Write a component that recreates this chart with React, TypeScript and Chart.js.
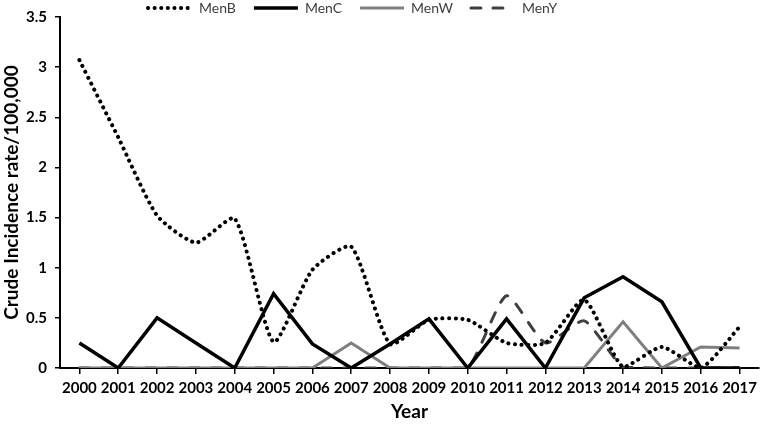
import React, { useEffect, useRef } from "react";
import { Chart, registerables } from "chart.js";

Chart.register(...registerables);

const years = ["2000", "2001", "2002", "2003", "2004", "2005", "2006", "2007", "2008", "2009", "2010", "2011", "2012", "2013", "2014", "2015", "2016", "2017"];
const menB = [3.07, 2.3, 1.52, 1.25, 1.49, 0.26, 0.98, 1.21, 0.24, 0.48, 0.48, 0.25, 0.25, 0.68, 0.01, 0.21, 0.0, 0.41];
const menC = [0.25, 0, 0.5, 0.25, 0, 0.74, 0.24, 0, 0.24, 0.49, 0, 0.49, 0, 0.7, 0.91, 0.66, 0, 0];
const menW = [0, 0, 0, 0, 0, 0, 0, 0.25, 0, 0, 0, 0, 0, 0, 0.46, 0, 0.21, 0.2];
const menY = [0, 0, 0, 0, 0, 0, 0, 0, 0, 0, 0, 0.72, 0.25, 0.47, 0.01, 0, 0, 0];
const yTicks = [0, 0.5, 1, 1.5, 2, 2.5, 3, 3.5];

const FONT = "Lato, 'Open Sans', sans-serif";

const legendShift = {
  id: "legendShift",
  beforeLayout(chart: any) {
    const l = chart.legend;
    if (l) l.isHorizontal = () => true;
  },
  afterLayout(chart: any) {
    const l = chart.legend;
    if (!l) return;
    const pad = chart.options.plugins.legend.labels.padding || 10;
    const w = l.right - l.left;
    const h = l.bottom - l.top;
    l.left = 148 - pad;
    l.right = l.left + w;
    l.top = 8 - pad - 7;
    l.bottom = l.top + h;
  },
};

export default function App() {
  const ref = useRef<HTMLCanvasElement | null>(null);
  useEffect(() => {
    if (!ref.current) return;
    const chart = new Chart(ref.current, {
      type: "line",
      data: {
        labels: years,
        datasets: [
          {
            label: "MenB",
            data: menB,
            borderColor: "#000000",
            backgroundColor: "#000000",
            borderWidth: 4,
            borderDash: [0.1, 6.5],
            borderCapStyle: "round",
            tension: 0.2,
            pointRadius: 0,
          },
          {
            label: "MenC",
            data: menC,
            borderColor: "#000000",
            backgroundColor: "#000000",
            borderWidth: 3.5,
            tension: 0,
            pointRadius: 0,
          },
          {
            label: "MenW",
            data: menW,
            borderColor: "#7f7f7f",
            backgroundColor: "#7f7f7f",
            borderWidth: 3,
            tension: 0,
            pointRadius: 0,
          },
          {
            label: "MenY",
            data: menY,
            borderColor: "#404040",
            backgroundColor: "#404040",
            borderWidth: 3,
            borderDash: [10, 12],
            borderCapStyle: "round",
            tension: 0.2,
            pointRadius: 0,
          },
        ],
      },
      options: {
        animation: false,
        responsive: false,
        maintainAspectRatio: false,
        layout: { padding: { top: 8, right: 2, left: 0, bottom: 0 } },
        plugins: {
          tooltip: { enabled: false },
          legend: {
            position: "chartArea",
            align: "start",
            labels: {
              usePointStyle: true,
              pointStyle: "line",
              pointStyleWidth: 44,
              padding: 18,
              color: "#404040",
              font: { family: FONT, size: 14 },
              generateLabels: (c: any) => {
                const items = (Chart.defaults as any).plugins.legend.labels.generateLabels(c);
                return items.map((it: any) => {
                  const ds = c.data.datasets[it.datasetIndex];
                  return {
                    ...it,
                    pointStyle: "line",
                    strokeStyle: ds.borderColor,
                    fillStyle: ds.borderColor,
                    lineWidth: ds.borderWidth,
                    lineDash: ds.borderDash || [],
                    lineCap: ds.borderCapStyle || "butt",
                  };
                });
              },
            },
          },
        },
        scales: {
          x: {
            type: "category",
            offset: true,
            grid: {
              offset: false,
              drawOnChartArea: false,
              drawTicks: true,
              tickLength: 6,
              tickColor: "#000",
              lineWidth: 1.5,
            },
            border: { display: true, color: "#000", width: 2 },
            ticks: {
              color: "#000",
              padding: 5,
              maxRotation: 0,
              autoSkip: false,
              font: { family: FONT, size: 15, weight: "bold" },
            },
            title: {
              display: true,
              text: "Year",
              color: "#000",
              padding: { top: 0, bottom: 4 },
              font: { family: FONT, size: 19, weight: "bold" },
            },
            afterFit: (s: any) => {
              s.height = 59;
            },
          },
          y: {
            min: 0,
            max: 3.5,
            afterBuildTicks: (s: any) => {
              s.ticks = yTicks.map((v) => ({ value: v }));
            },
            grid: {
              drawOnChartArea: false,
              drawTicks: true,
              tickLength: 5,
              tickColor: "#000",
              lineWidth: 1.5,
            },
            border: { display: true, color: "#000", width: 2 },
            ticks: {
              color: "#000",
              padding: 8,
              callback: (v: any) => String(v),
              font: { family: FONT, size: 15, weight: "bold" },
            },
            title: {
              display: true,
              text: "Crude Incidence rate/100,000",
              color: "#000",
              padding: { top: 0, bottom: 0 },
              font: { family: FONT, size: 19, weight: "bold" },
            },
            afterFit: (s: any) => {
              s.width = 60;
            },
          },
        },
      } as any,
      plugins: [legendShift],
    });
    return () => chart.destroy();
  }, []);
  return (
    <div style={{ position: "fixed", left: 0, top: 0, width: 762, height: 427, background: "#fff" }}>
      <canvas ref={ref} width={762} height={427} style={{ width: 762, height: 427 }} />
    </div>
  );
}
